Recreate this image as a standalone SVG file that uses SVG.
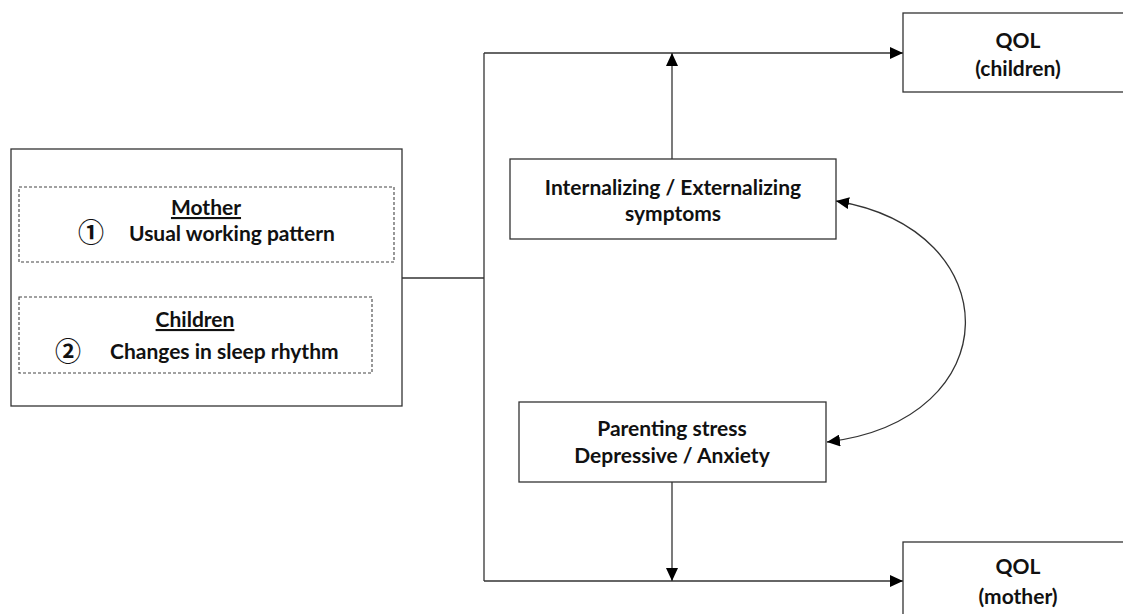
<svg xmlns="http://www.w3.org/2000/svg" width="1123" height="614" viewBox="0 0 1123 614">
<defs>
<style>
.box{fill:#fff;stroke:#333;stroke-width:1.3}
.dash{fill:none;stroke:#444;stroke-width:1.1;stroke-dasharray:3 2}
.ln{fill:none;stroke:#333;stroke-width:1.3}
.t{font-family:Lato,"Liberation Sans",sans-serif;font-weight:bold;font-size:21px;fill:#111;text-anchor:middle}
.tl{font-family:Lato,"Liberation Sans",sans-serif;font-weight:bold;font-size:21px;fill:#111}
.c{font-family:"Noto Sans CJK JP","DejaVu Sans",sans-serif;font-size:26px;font-weight:bold;fill:#111;text-anchor:middle}
</style>
<marker id="ah" viewBox="0 0 13 12" refX="13" refY="6" markerWidth="13" markerHeight="12" markerUnits="userSpaceOnUse" orient="auto-start-reverse">
<path d="M0,0 L13,6 L0,12 Z" fill="#000"/>
</marker>
</defs>
<rect width="1123" height="614" fill="#fff"/>
<g id="connectors">
<line class="ln" x1="402" y1="278" x2="484" y2="278"/>
<line class="ln" x1="484" y1="53" x2="484" y2="581"/>
<line class="ln" x1="484" y1="53" x2="903" y2="53" marker-end="url(#ah)"/>
<line class="ln" x1="484" y1="581" x2="903" y2="581" marker-end="url(#ah)"/>
<line class="ln" x1="672" y1="159" x2="672" y2="53" marker-end="url(#ah)"/>
<line class="ln" x1="672" y1="482" x2="672" y2="581" marker-end="url(#ah)"/>
<path class="ln" d="M836,201 C1010,230 1010,420 827,442" marker-start="url(#ah)" marker-end="url(#ah)"/>
</g>
<g id="exposure">
<rect class="box" x="11" y="149" width="391" height="257"/>
<g id="mother">
<rect class="dash" x="19" y="187" width="375" height="75"/>
<text class="t" x="206" y="215" text-decoration="underline">Mother</text>
<text class="c" x="91" y="242">①</text>
<text class="tl" x="129" y="241">Usual working pattern</text>
</g>
<g id="children">
<rect class="dash" x="19" y="297" width="353" height="76"/>
<text class="t" x="195" y="327" text-decoration="underline">Children</text>
<text class="c" x="68" y="361">②</text>
<text class="tl" x="110" y="359">Changes in sleep rhythm</text>
</g>
</g>
<g id="symptoms">
<rect class="box" x="510" y="159" width="326" height="80"/>
<text class="t" x="673" y="195">Internalizing / Externalizing</text>
<text class="t" x="673" y="221">symptoms</text>
</g>
<g id="parenting">
<rect class="box" x="519" y="402" width="307" height="80"/>
<text class="t" x="672" y="436">Parenting stress</text>
<text class="t" x="672" y="463">Depressive / Anxiety</text>
</g>
<g id="qol-children">
<rect class="box" x="903" y="13" width="230" height="79"/>
<text class="t" x="1018" y="48">QOL</text>
<text class="t" x="1018" y="76">(children)</text>
</g>
<g id="qol-mother">
<rect class="box" x="903" y="542" width="230" height="90"/>
<text class="t" x="1018" y="574">QOL</text>
<text class="t" x="1018" y="604">(mother)</text>
</g>
</svg>
